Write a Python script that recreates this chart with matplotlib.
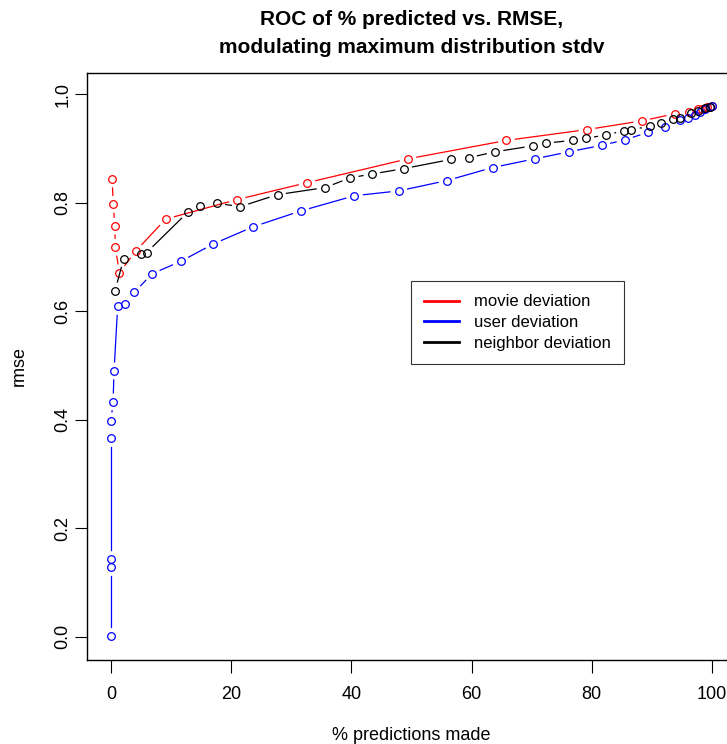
import numpy as np
import matplotlib
matplotlib.use('Agg')
import matplotlib.pyplot as plt
from matplotlib.lines import Line2D

plt.rcParams['font.family'] = ['Liberation Sans', 'DejaVu Sans']

# % predictions made / rmse
movie_x = [0.17, 0.38, 0.62, 0.72, 1.38, 4.1, 9.1, 21.0, 32.6, 49.4, 65.8,
           79.2, 88.3, 93.8, 96.2, 97.6, 98.4, 99.2, 100.0]
movie_y = [0.844, 0.797, 0.757, 0.718, 0.671, 0.711, 0.770, 0.806, 0.837, 0.881, 0.915,
           0.935, 0.951, 0.964, 0.968, 0.972, 0.973, 0.976, 0.979]

user_x = [0.0, 0.0, 0.0, 0.0, 0.0, 0.33, 0.5, 1.1, 2.4, 3.9, 6.8, 11.6, 17.0, 23.7,
          31.6, 40.5, 47.9, 55.9, 63.5, 70.5, 76.2, 81.7, 85.5, 89.4, 92.2, 94.6,
          96.0, 97.1, 98.0, 98.8, 99.6, 100.0]
user_y = [0.001, 0.128, 0.143, 0.366, 0.398, 0.433, 0.490, 0.609, 0.614, 0.635, 0.669,
          0.692, 0.724, 0.756, 0.785, 0.813, 0.822, 0.841, 0.865, 0.881, 0.894, 0.906,
          0.916, 0.930, 0.939, 0.952, 0.957, 0.962, 0.967, 0.972, 0.976, 0.979]

neigh_x = [0.67, 2.1, 4.9, 5.9, 12.8, 14.8, 17.6, 21.5, 27.7, 35.6, 39.8, 43.4, 48.7,
           56.6, 59.5, 63.9, 70.2, 72.3, 76.8, 79.0, 82.4, 85.4, 86.6, 89.7, 91.5,
           93.5, 94.6, 96.5, 97.6, 98.8, 99.7]
neigh_y = [0.638, 0.697, 0.705, 0.708, 0.783, 0.794, 0.799, 0.793, 0.815, 0.828, 0.846,
           0.853, 0.863, 0.880, 0.883, 0.894, 0.905, 0.910, 0.915, 0.919, 0.925, 0.933,
           0.935, 0.941, 0.947, 0.954, 0.957, 0.965, 0.970, 0.974, 0.977]

series = [('movie deviation', movie_x, movie_y, '#FF0000'),
          ('user deviation', user_x, user_y, '#0000FF'),
          ('neighbor deviation', neigh_x, neigh_y, '#000000')]

fig = plt.figure(figsize=(7.27, 7.44), dpi=100)
ax = fig.add_axes([0.1197, 0.1129, 0.8927, 0.7895])
ax.set_xlim(-4, 104)
ax.set_ylim(-0.043, 1.040)


def plot_type_b(ax, x, y, color, gap=9.0):
    # like R type="b": segments stop short of each point
    fig.canvas.draw()
    pts = ax.transData.transform(np.column_stack([x, y]))
    inv = ax.transData.inverted()
    for p1, p2 in zip(pts[:-1], pts[1:]):
        d = p2 - p1
        L = np.hypot(*d)
        if L <= 2 * gap:
            continue
        u = d / L
        a = inv.transform(p1 + gap * u)
        b = inv.transform(p2 - gap * u)
        ax.plot([a[0], b[0]], [a[1], b[1]], color=color, lw=0.9)
    ax.plot(x, y, 'o', ms=5.5, mfc='none', mec=color, mew=0.9, linestyle='none')


for name, x, y, c in series:
    plot_type_b(ax, x, y, c)

ax.set_xticks([0, 20, 40, 60, 80, 100])
ax.set_yticks([0.0, 0.2, 0.4, 0.6, 0.8, 1.0])
ax.set_yticklabels(['0.0', '0.2', '0.4', '0.6', '0.8', '1.0'])
ax.tick_params(direction='out', length=9, width=0.8, labelsize=13)
ax.tick_params(axis='x', pad=10)
ax.tick_params(axis='y', pad=2)
for lab in ax.get_yticklabels():
    lab.set_rotation(90)
    lab.set_va('center')
for s in ax.spines.values():
    s.set_linewidth(1.0)

ax.set_xlabel('% predictions made', fontsize=13)
ax.set_ylabel('rmse', fontsize=13)
ax.xaxis.set_label_coords(0.5, -0.114)
ax.yaxis.set_label_coords(-0.092, 0.5)
ax.set_title('ROC of % predicted vs. RMSE,\nmodulating maximum distribution stdv',
             fontsize=15, fontweight='bold', pad=14, linespacing=1.6)

handles = [Line2D([0], [0], color=c, lw=2) for _, _, _, c in series]
leg = ax.legend(handles, [s[0] for s in series], loc='upper left',
                bbox_to_anchor=(0.499, 0.645), fontsize=12, frameon=True,
                fancybox=False, borderpad=0.8, handlelength=2.1,
                handletextpad=0.9, labelspacing=0.35, borderaxespad=0)
leg.get_frame().set_edgecolor('black')
leg.get_frame().set_linewidth(0.8)

fig.savefig('out.png', dpi=100)
